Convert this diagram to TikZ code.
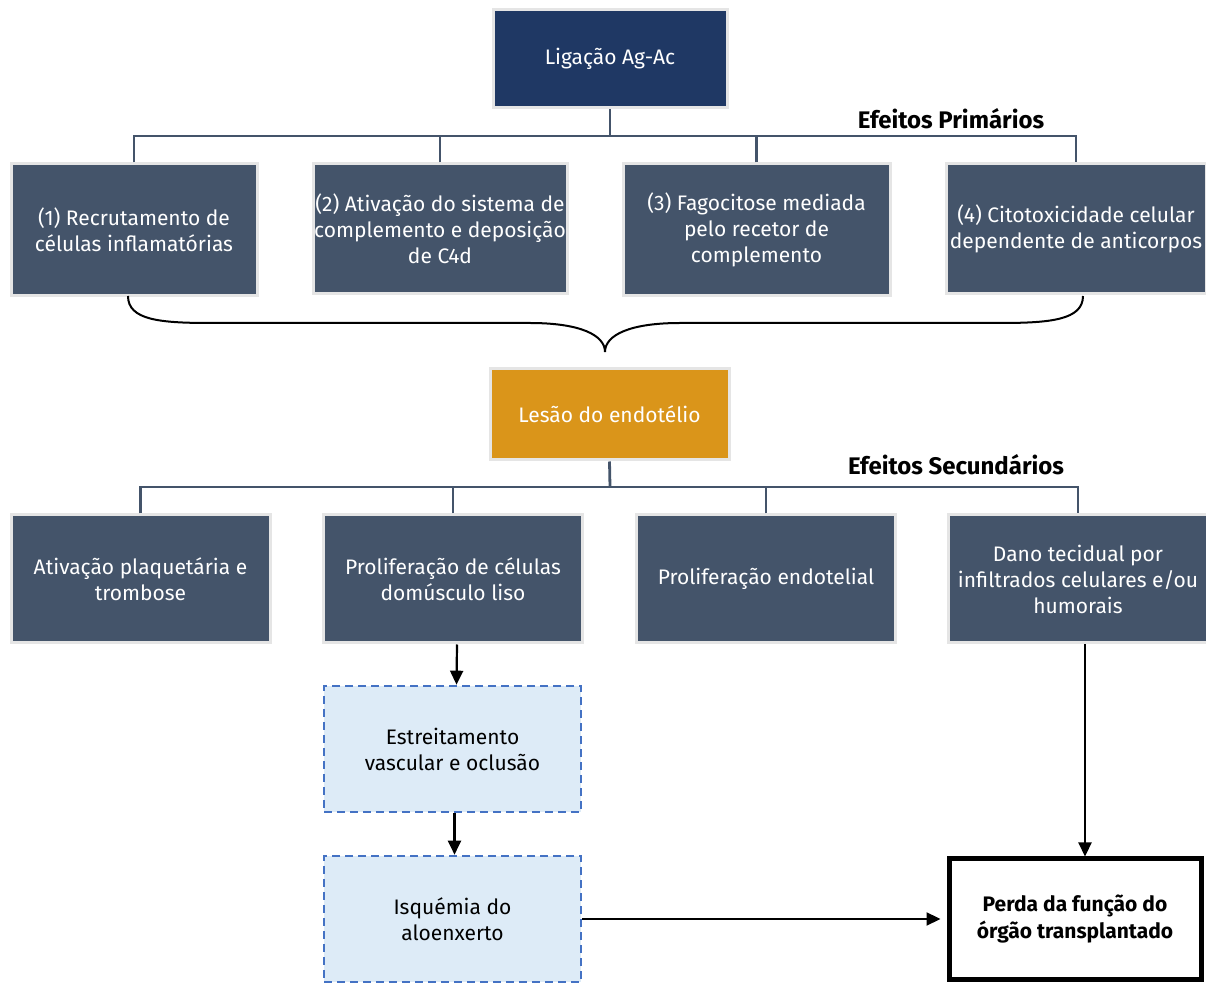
\documentclass[tikz,border=0pt]{standalone}
\usepackage{fontspec}
\setmainfont{Fira Sans}
\usetikzlibrary{positioning,arrows.meta}

\definecolor{navyblue}{HTML}{1F3864}
\definecolor{slate}{HTML}{44546A}
\definecolor{amber}{HTML}{DA951A}
\definecolor{paleblue}{HTML}{DDEBF7}
\definecolor{dashblue}{HTML}{4472C4}

\begin{document}
\begin{tikzpicture}[x=0.5pt, y=-0.5pt, font=\fontsize{10.5}{13}\selectfont,
    box/.style = {draw=gray!20, line width=1.5pt, fill=slate, text=white, align=center, inner sep=0pt},
    dashbox/.style = {draw=dashblue, dash pattern=on 4pt off 2.5pt, line width=1.3pt, fill=paleblue, align=center, inner sep=0pt, minimum width=128.5pt, minimum height=63pt},
    conn/.style = {draw=slate, line width=1.4pt},
    arr/.style = {draw=black, line width=1.1pt, -{Triangle[length=7pt,width=6.5pt]}},
    heading/.style = {font=\fontsize{12}{14}\selectfont\bfseries}]
    \useasboundingbox (0,0) rectangle (1206,983);

    % top
    \node[box, fill=navyblue, minimum width=117pt, minimum height=49pt] (lig) at (610,59) {Ligação Ag-Ac};
    \node[heading] (prim) at (951,119) {Efeitos Primários};

    % primary effects
    \node[box, minimum width=123pt, minimum height=66pt] (p1) at (134,230) {(1) Recrutamento de\\células inflamatórias};
    \node[box, minimum width=127pt, minimum height=65pt] (p2) at (440,229) {(2) Ativação do sistema de\\complemento e deposição\\de C4d};
    \node[box, minimum width=133.5pt, minimum height=66pt] (p3) at (756.5,230) {(3) Fagocitose mediada\\pelo recetor de\\complemento};
    \node[box, minimum width=130pt, minimum height=65pt] (p4) at (1076,229) {(4) Citotoxicidade celular\\dependente de anticorpos};

    \coordinate (bus1) at (610,136);
    \draw[conn] (lig.south) -- (bus1);
    \draw[conn] (p1.north) -- (p1.north |- bus1) -- (p4.north |- bus1) -- (p4.north);
    \draw[conn] (p2.north) -- (p2.north |- bus1);
    \draw[conn] (p3.north) -- (p3.north |- bus1);

    % brace
    \coordinate (bl) at (128,296);
    \coordinate (br) at (1083,296);
    \coordinate (tip) at (605,352);
    \draw[line width=1pt] (bl) .. controls (128,320) and (160,323) .. (210,323) -- (530,323)
        .. controls (580,323) and (605,335) .. (tip)
        .. controls (605,335) and (630,323) .. (680,323) -- (1000,323)
        .. controls (1050,323) and (1083,320) .. (br);

    % endothelium
    \node[box, fill=amber, minimum width=119.5pt, minimum height=45.5pt] (les) at (609.5,414.5) {Lesão do endotélio};
    \node[heading] (sec) at (956,465) {Efeitos Secundários};

    % secondary effects
    \node[box, minimum width=129.5pt, minimum height=64pt] (s1) at (140.5,579) {Ativação plaquetária e\\trombose};
    \node[box, minimum width=129.5pt, minimum height=64pt] (s2) at (453,579) {Proliferação de células\\domúsculo liso};
    \node[box, minimum width=129.5pt, minimum height=64pt] (s3) at (766,579) {Proliferação endotelial};
    \node[box, minimum width=129.5pt, minimum height=64pt] (s4) at (1078,579) {Dano tecidual por\\infiltrados celulares e/ou\\humorais};

    \coordinate (bus2) at (610,487);
    \draw[conn] (les.south) -- (bus2);
    \draw[conn] (s1.north) -- (s1.north |- bus2) -- (s4.north |- bus2) -- (s4.north);
    \draw[conn] (s2.north) -- (s2.north |- bus2);
    \draw[conn] (s3.north) -- (s3.north |- bus2);

    % consequences
    \node[dashbox] (est) at (452.5,749) {Estreitamento\\vascular e oclusão};
    \node[dashbox] (isq) at (452.5,919) {Isquémia do\\aloenxerto};
    \node[draw, line width=2.5pt, align=center, inner sep=0pt, minimum width=126pt, minimum height=60pt, font=\fontsize{10.5}{13.5}\selectfont\bfseries] (perda) at (1075,919) {Perda da função do\\órgão transplantado};

    \draw[arr] ([xshift=2pt]s2.south) -- ([xshift=2pt]est.north);
    \draw[arr] ([xshift=1pt]est.south) -- ([xshift=1pt]isq.north);
    \draw[arr] (isq.east) -- ([xshift=-3pt]perda.west);
    \draw[arr] ([xshift=3.5pt]s4.south) -- ([xshift=5pt]perda.north);
\end{tikzpicture}
\end{document}
